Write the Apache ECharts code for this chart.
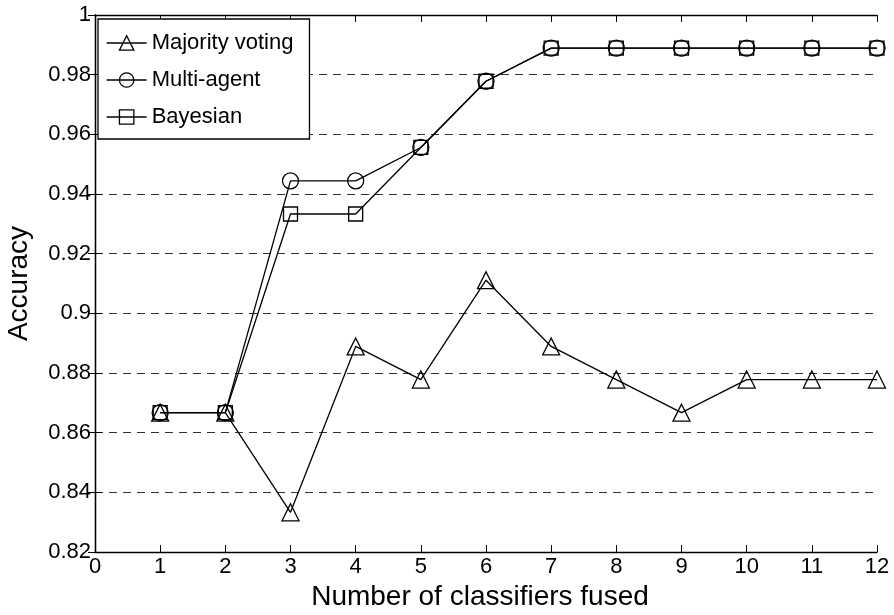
<!DOCTYPE html>
<html>
<head>
<meta charset="utf-8">
<script src="https://cdn.jsdelivr.net/npm/echarts@6/dist/echarts.min.js"></script>
<style>
  html, body { margin: 0; padding: 0; background: #fff; }
  #chart { width: 894px; height: 615px; }
</style>
</head>
<body>
<div id="chart"></div>
<script>
// Number of classifiers fused
const classifiers = [1, 2, 3, 4, 5, 6, 7, 8, 9, 10, 11, 12];
// Accuracy per fusion method
const majorityVoting = [0.8667, 0.8667, 0.8333, 0.8889, 0.8778, 0.9111, 0.8889, 0.8778, 0.8667, 0.8778, 0.8778, 0.8778];
const multiAgent     = [0.8667, 0.8667, 0.9444, 0.9444, 0.9556, 0.9778, 0.9889, 0.9889, 0.9889, 0.9889, 0.9889, 0.9889];
const bayesian       = [0.8667, 0.8667, 0.9333, 0.9333, 0.9556, 0.9778, 0.9889, 0.9889, 0.9889, 0.9889, 0.9889, 0.9889];
const seriesNames = ['Majority voting', 'Multi-agent', 'Bayesian'];

const FONT = '"Liberation Sans", Arial, sans-serif';
const pairs = (ys) => classifiers.map((x, i) => [x, ys[i]]);

const chart = echarts.init(document.getElementById('chart'), null, { renderer: 'canvas' });

function lineSeries(name, ys, symbol, size) {
  return {
    name: name,
    type: 'line',
    data: pairs(ys),
    symbol: symbol,
    symbolSize: size,
    showAllSymbol: true,
    lineStyle: { color: '#000', width: 1.3 },
    itemStyle: { color: 'rgba(0,0,0,0)', borderColor: '#000', borderWidth: 1.3 },
    emphasis: { disabled: true },
    animation: false,
    z: 3
  };
}

const boxAxis = {
  axisLine: { show: true, lineStyle: { color: '#000', width: 1.3 } },
  axisTick: { show: true, inside: true, length: 7, lineStyle: { color: '#000', width: 1 } }
};

chart.setOption({
  backgroundColor: '#fff',
  animation: false,
  grid: { left: 95, right: 17, top: 15, bottom: 63, containLabel: false, outerBoundsMode: 'none' },
  legend: {
    data: seriesNames,
    orient: 'vertical',
    left: 98,
    top: 19,
    padding: [13, 16, 11, 8],
    itemGap: 15,
    itemWidth: 40,
    itemHeight: 18,
    backgroundColor: '#fff',
    borderColor: '#000',
    borderWidth: 1.3,
    textStyle: { fontFamily: FONT, fontSize: 22, color: '#000', lineHeight: 22 },
    itemStyle: { color: 'rgba(0,0,0,0)', borderColor: '#000', borderWidth: 1.3 },
    lineStyle: { color: '#000', width: 1.3 },
    selectedMode: false,
    z: 10
  },
  xAxis: [
    Object.assign({
      type: 'value',
      min: 0, max: 12, interval: 1,
      name: 'Number of classifiers fused',
      nameLocation: 'middle',
      nameGap: 29,
      nameTextStyle: { fontFamily: FONT, fontSize: 28, color: '#000', padding: [0, 12, 0, 0] },
      axisLabel: { fontFamily: FONT, fontSize: 22, color: '#000', margin: 4 },
      splitLine: { show: false }
    }, boxAxis),
    Object.assign({
      type: 'value', position: 'top',
      min: 0, max: 12, interval: 1,
      axisLabel: { show: false },
      splitLine: { show: false }
    }, boxAxis)
  ],
  yAxis: [
    Object.assign({
      type: 'value',
      min: 0.82, max: 1, interval: 0.02,
      name: 'Accuracy',
      nameLocation: 'middle',
      nameGap: 62,
      nameTextStyle: { fontFamily: FONT, fontSize: 28, color: '#000' },
      axisLabel: {
        fontFamily: FONT, fontSize: 22, color: '#000', margin: 4,
        formatter: (v) => String(+v.toFixed(2))
      },
      splitLine: { show: true, lineStyle: { color: '#333', width: 1, type: [8, 6] } }
    }, boxAxis),
    Object.assign({
      type: 'value', position: 'right',
      min: 0.82, max: 1, interval: 0.02,
      axisLabel: { show: false },
      splitLine: { show: false }
    }, boxAxis)
  ],
  series: [
    lineSeries(seriesNames[0], majorityVoting, 'triangle', 17),
    lineSeries(seriesNames[1], multiAgent, 'circle', 16),
    lineSeries(seriesNames[2], bayesian, 'rect', 14)
  ]
});
</script>
</body>
</html>
